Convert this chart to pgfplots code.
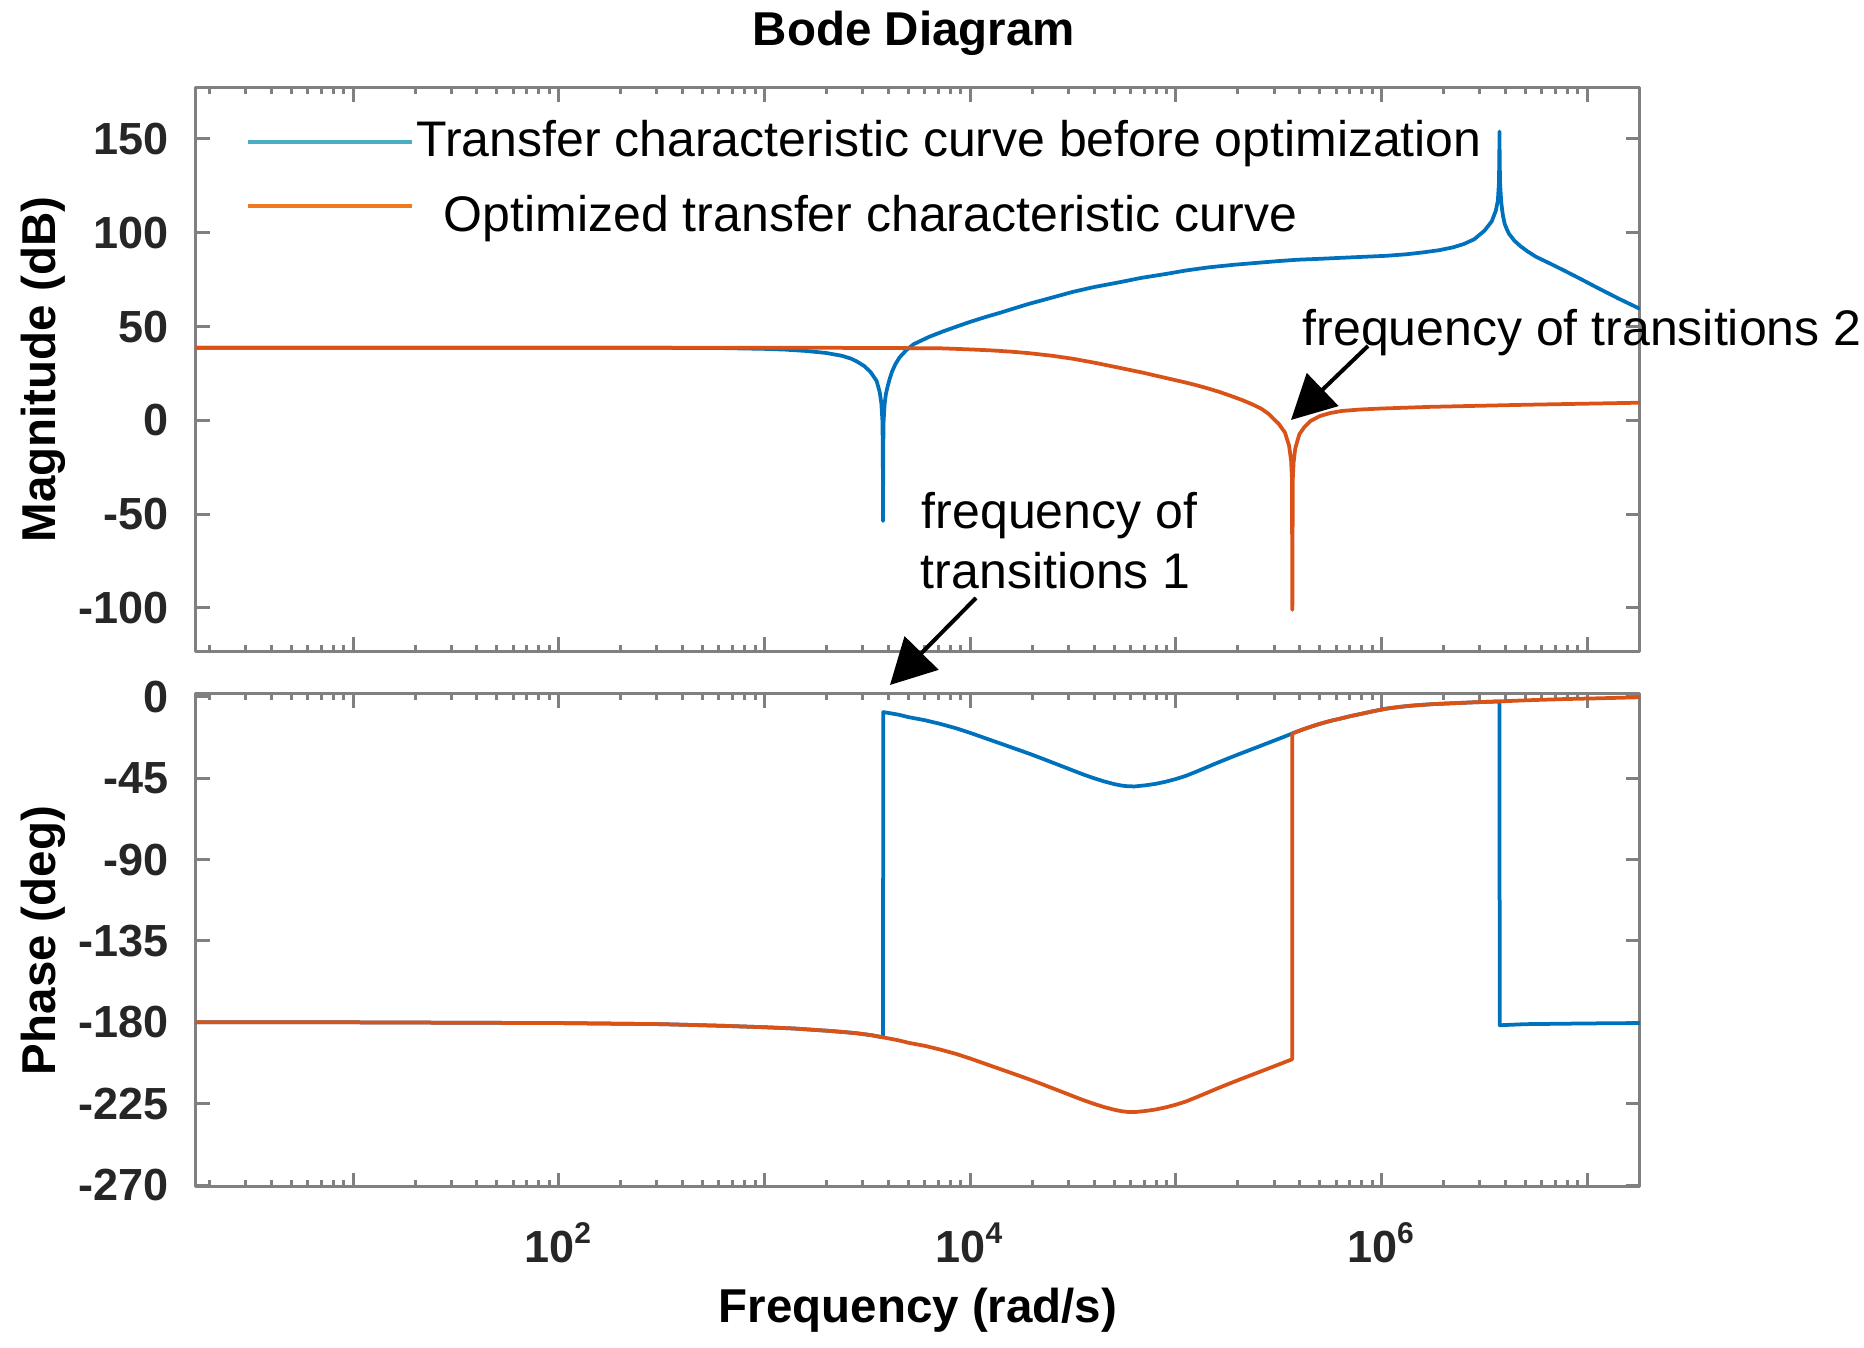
\documentclass[border=0pt]{standalone}
\usepackage{fontspec}
\setmainfont{Liberation Sans}
\usepackage{pgfplots}
\pgfplotsset{compat=1.18}
\usepackage{pgfplotstable}
\usetikzlibrary{arrows.meta}

\definecolor{mblue}{RGB}{0,114,189}
\definecolor{morange}{RGB}{217,83,25}
\definecolor{legblue}{RGB}{75,172,198}
\definecolor{legorange}{RGB}{240,120,30}
\definecolor{axgray}{RGB}{128,128,128}
\definecolor{tickc}{RGB}{38,38,38}

% x column: log10 of frequency (rad/s)
\pgfplotstableread{
lw val
0.236 38.7
1.000 38.7
2.000 38.7
2.500 38.65
2.800 38.5
2.900 38.3
3.000 38.1
3.100 37.7
3.200 37.0
3.300 35.9
3.376 34.4
3.420 32.9
3.450 31.3
3.485 28.9
3.515 25.8
3.545 21.0
3.560 15.0
3.568 9.0
3.573 0.0
3.575 -15.0
3.576 -53.7
3.577 -15.0
3.579 0.0
3.584 9.0
3.590 14.0
3.597 17.4
3.608 22.0
3.620 26.0
3.636 29.9
3.656 33.5
3.690 37.5
3.725 40.6
3.800 44.5
3.870 47.5
3.950 50.6
4.000 52.5
4.075 55.1
4.150 57.5
4.220 59.9
4.286 62.1
4.400 65.5
4.500 68.5
4.600 71.0
4.721 73.5
4.830 75.9
4.950 78.0
5.050 79.9
5.156 81.5
5.280 82.9
5.400 84.0
5.500 84.9
5.590 85.6
5.700 86.1
5.800 86.6
5.900 87.1
6.023 87.7
6.120 88.5
6.200 89.5
6.280 90.7
6.347 92.2
6.400 94.0
6.450 96.5
6.500 101.1
6.535 106.0
6.555 111.7
6.565 117.0
6.570 126.0
6.572 138.0
6.573 154.0
6.574 138.0
6.576 126.0
6.581 117.0
6.586 112.0
6.590 109.0
6.598 104.8
6.610 101.5
6.620 99.3
6.645 95.8
6.673 93.0
6.710 90.0
6.750 87.2
6.820 83.5
6.890 79.7
6.970 75.2
7.050 70.6
7.150 65.0
7.256 59.4
}\bluemag

\pgfplotstableread{
lw val
0.236 38.7
1.000 38.7
2.000 38.7
3.000 38.7
3.500 38.6
3.853 38.4
3.930 38.1
4.000 37.8
4.100 37.3
4.200 36.6
4.286 35.8
4.400 34.4
4.500 32.8
4.610 30.6
4.721 28.1
4.840 25.4
4.950 22.6
5.050 20.1
5.100 18.7
5.156 17.0
5.210 15.2
5.260 13.3
5.320 10.9
5.372 8.5
5.415 6.2
5.450 3.5
5.500 -1.9
5.530 -6.5
5.550 -13.5
5.560 -21.5
5.564 -31.0
5.566 -101.0
5.568 -31.5
5.572 -22.5
5.580 -15.0
5.600 -7.4
5.625 -3.5
5.655 -0.3
5.700 2.3
5.750 3.9
5.806 5.0
5.900 5.8
6.000 6.3
6.240 7.2
6.700 8.3
7.256 9.4
}\orangemag

\pgfplotstableread{
lw val
0.236 -180.0
1.000 -180.0
2.000 -180.4
2.500 -181.0
2.795 -181.9
3.000 -182.7
3.143 -183.4
3.300 -184.6
3.380 -185.3
3.446 -186.0
3.520 -187.1
3.576 -188.3
3.577 -8.5
3.650 -9.9
3.700 -11.3
3.780 -13.0
3.853 -15.0
3.930 -17.4
4.000 -20.0
4.075 -23.0
4.150 -26.0
4.220 -28.8
4.287 -31.5
4.350 -34.2
4.400 -36.4
4.450 -38.6
4.504 -41.0
4.550 -43.0
4.600 -45.0
4.650 -46.8
4.700 -48.3
4.735 -49.1
4.765 -49.5
4.800 -49.6
4.850 -49.0
4.900 -48.2
4.950 -47.0
5.000 -45.5
5.047 -43.8
5.100 -41.4
5.150 -39.0
5.200 -36.6
5.250 -34.3
5.310 -31.6
5.372 -28.9
5.420 -26.8
5.470 -24.6
5.520 -22.4
5.566 -20.3
5.610 -18.4
5.650 -16.8
5.700 -15.0
5.750 -13.4
5.807 -11.9
5.850 -10.7
5.900 -9.5
5.960 -8.0
6.023 -6.6
6.090 -5.6
6.150 -4.9
6.250 -4.1
6.349 -3.6
6.450 -3.1
6.573 -2.6
6.574 -181.6
6.700 -181.0
7.000 -180.6
7.256 -180.4
}\bluephase

\pgfplotstableread{
lw val
0.236 -180.0
1.000 -180.0
2.000 -180.4
2.500 -181.0
2.795 -181.9
3.000 -182.7
3.143 -183.4
3.300 -184.6
3.380 -185.3
3.446 -186.0
3.520 -187.1
3.576 -188.3
3.650 -189.9
3.700 -191.3
3.780 -193.0
3.853 -195.0
3.930 -197.4
4.000 -200.0
4.075 -203.0
4.150 -206.0
4.220 -208.8
4.287 -211.5
4.350 -214.2
4.400 -216.4
4.450 -218.6
4.504 -221.0
4.550 -223.0
4.600 -225.0
4.650 -226.8
4.700 -228.3
4.735 -229.1
4.765 -229.5
4.800 -229.6
4.850 -229.0
4.900 -228.2
4.950 -227.0
5.000 -225.5
5.047 -223.8
5.100 -221.4
5.150 -219.0
5.200 -216.6
5.250 -214.3
5.310 -211.6
5.372 -208.9
5.420 -206.8
5.470 -204.6
5.520 -202.4
5.565 -200.4
5.566 -20.3
5.610 -18.4
5.650 -16.8
5.700 -15.0
5.750 -13.4
5.807 -11.9
5.850 -10.7
5.900 -9.5
5.960 -8.0
6.023 -6.6
6.090 -5.6
6.150 -4.9
6.250 -4.1
6.349 -3.6
6.450 -3.1
6.573 -2.6
6.700 -2.0
6.890 -1.3
7.050 -0.9
7.256 -0.3
}\orangephase

\pgfplotsset{
  bodeax/.style={
    scale only axis,
    anchor=north west,
    width=288.8pt,
    xmin=0.236, xmax=7.256,
    xtick={1,2,3,4,5,6,7},
    minor xtick={0.30103,0.47712,0.60206,0.69897,0.77815,0.84510,0.90309,0.95424,
                 1.30103,1.47712,1.60206,1.69897,1.77815,1.84510,1.90309,1.95424,
                 2.30103,2.47712,2.60206,2.69897,2.77815,2.84510,2.90309,2.95424,
                 3.30103,3.47712,3.60206,3.69897,3.77815,3.84510,3.90309,3.95424,
                 4.30103,4.47712,4.60206,4.69897,4.77815,4.84510,4.90309,4.95424,
                 5.30103,5.47712,5.60206,5.69897,5.77815,5.84510,5.90309,5.95424,
                 6.30103,6.47712,6.60206,6.69897,6.77815,6.84510,6.90309,6.95424},
    xtick pos=both, ytick pos=both,
    tick align=inside,
    major tick length=2.8pt,
    minor tick length=1.3pt,
    axis line style={axgray, line width=0.6pt},
    tick style={axgray, line width=0.6pt},
    ticklabel style={font=\fontsize{9}{10}\selectfont\bfseries, text=tickc},
    yticklabel style={anchor=east, inner sep=0pt, xshift=-5.2pt},
    xticklabel style={anchor=north, inner sep=0pt, yshift=-6.9pt},
    label style={font=\fontsize{9.5}{11}\selectfont\bfseries, text=black},
    ylabel style={at={(axis description cs:-0.106,0.5)}, anchor=center},
    line join=round,
  }
}

\begin{document}
\begin{tikzpicture}
\path[use as bounding box] (0,0) rectangle (372.8pt,-269.6pt);

% ---- Magnitude ----
\begin{axis}[bodeax,
  at={(39.2pt,-17.54pt)},
  height=112.76pt,
  ymin=-123.2, ymax=177.3,
  ytick={-100,-50,0,50,100,150},
  yticklabels={-100,-50,0,50,100,150},
  xticklabel=\empty,
  ylabel={Magnitude (dB)},
  legend style={draw=none, fill=none, inner sep=0pt, outer sep=0pt,
    at={(axis description cs:0.0346,0.9466)}, anchor=north west,
    row sep=3pt, column sep=0.5pt,
    font=\fontsize{10}{12}\selectfont,
    nodes={inner sep=0pt, text height=7.8pt, text depth=2pt}},
  legend cell align=left,
  legend image code/.code={\draw[#1] (0pt,0pt) -- (32.8pt,0pt);},
]
\addlegendimage{legblue, line width=0.8pt}
\addlegendentry{Transfer characteristic curve before optimization}
\addlegendimage{legorange, line width=0.8pt}
\addlegendentry{\raisebox{-2.2pt}{\hspace{5.5pt}Optimized transfer characteristic curve}}
\addplot[mblue, line width=0.75pt, forget plot] table[x=lw, y=val] {\bluemag};
\addplot[morange, line width=0.75pt, forget plot] table[x=lw, y=val] {\orangemag};
\end{axis}

% ---- Phase ----
\begin{axis}[bodeax,
  at={(39.2pt,-138.8pt)},
  height=98.6pt,
  ymin=-271, ymax=1.5,
  ytick={-270,-225,-180,-135,-90,-45,0},
  yticklabels={-270,-225,-180,-135,-90,-45,0},
  xticklabels={{},{10\textsuperscript{2}},{},{10\textsuperscript{4}},{},{10\textsuperscript{6}},{}},
  ylabel={Phase (deg)},
  xlabel={Frequency (rad/s)},
  xlabel style={at={(axis description cs:0.5,-0.2495)}, anchor=center},
]
\addplot[mblue, line width=0.75pt] table[x=lw, y=val] {\bluephase};
\addplot[morange, line width=0.75pt] table[x=lw, y=val] {\orangephase};
\end{axis}

% ---- Title and annotations (coordinates in image pixels) ----
\begin{scope}[x=0.2pt, y=-0.2pt]
\node[anchor=center, inner sep=0pt, font=\fontsize{9.5}{11}\selectfont\bfseries] at (914,33) {Bode Diagram};
\node[anchor=base west, inner sep=0pt, font=\fontsize{10}{12}\selectfont] at (921,528.3) {frequency of};
\node[anchor=base west, inner sep=0pt, font=\fontsize{10}{12}\selectfont] at (920,588.3) {transitions 1};
\node[anchor=base west, inner sep=0pt, font=\fontsize{10}{12}\selectfont] at (1301.8,345.7) {frequency of transitions 2};
\draw[line width=0.8pt, -{Triangle[length=9pt, width=9.4pt]}] (976,598) -- (890,685);
\draw[line width=0.8pt, -{Triangle[length=8.8pt, width=9pt]}] (1368,346) -- (1291,420);
\end{scope}
\end{tikzpicture}
\end{document}
